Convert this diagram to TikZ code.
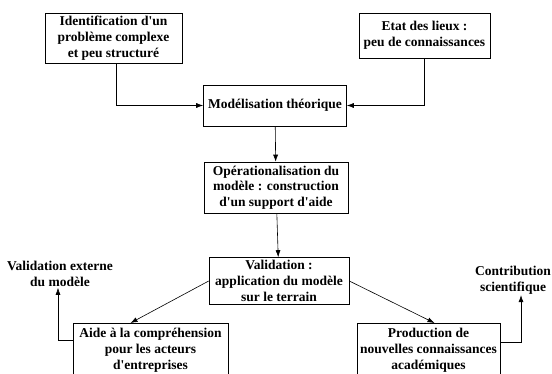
\documentclass[tikz,border=0pt]{standalone}
\usepackage{fontspec}
\setmainfont{Liberation Serif}
\usetikzlibrary{calc,arrows.meta}
\def\apos{\textquotesingle}

\tikzset{
  boite/.style={draw, align=center, inner sep=1.5pt, line width=0.6pt,
    font=\bfseries\fontsize{13.5}{15.7}\selectfont},
  etiquette/.style={align=center, inner sep=1pt,
    font=\bfseries\fontsize{13.5}{15.7}\selectfont},
  fleche/.style={-{Latex[length=7pt,width=5pt]}, line width=0.6pt}
}

\begin{document}
\begin{tikzpicture}[x=1pt,y=-1pt]
				\useasboundingbox (0,0) rectangle (552,374);
				\clip (0,0) rectangle (552,374);
				
				\node[boite, minimum width=137pt, minimum height=50pt] (ident) at (113.5,38) {Identification d\apos un\\probl\`eme complexe\\et peu structur\'e};
				\node[boite, minimum width=131pt, minimum height=45pt] (etat) at (424.5,35.5) {Etat des lieux :\\peu de connaissances};
				\node[boite, minimum width=143pt, minimum height=41pt] (model) at (275,105.5) {Mod\'elisation th\'eorique};
				\node[boite, minimum width=144pt, minimum height=51pt] (operat) at (276,187.5) {Op\'erationalisation du\\mod\`ele : construction\\d\apos un support d\apos aide};
				\node[boite, minimum width=140pt, minimum height=47pt] (valid) at (279,281) {Validation :\\application du mod\`ele\\sur le terrain};
				\node[boite, minimum width=155pt, minimum height=54pt, anchor=north] (aide) at (150.5,323) {Aide \`a la compr\'ehension\\pour les acteurs\\d\apos entreprises};
				\node[boite, minimum width=143pt, minimum height=54pt, anchor=north] (prod) at (428.5,323) {Production de\\nouvelles connaissances\\acad\'emiques};
				
				\node[etiquette] (valext) at (60,274) {Validation externe\\du mod\`ele};
				\node[etiquette] (contrib) at (513,280) {Contribution\\scientifique};
				
				\draw[fleche] ([xshift=3pt]ident.south) |- (model.west);
				\draw[fleche] (etat.south) |- (model.east);
				\draw[fleche] (model) -- (operat);
				\draw[fleche] (operat) -- (valid);
				\draw[fleche] (valid.west) -- ([xshift=-20pt]aide.north);
				\draw[fleche] (valid.east) -- ([xshift=6pt]prod.north);
				\draw[fleche] (aide.west |- 0,340) -| ([xshift=-2pt]valext.south);
				\draw[fleche] (prod.east |- 0,342) -| ([xshift=8pt]contrib.south);
			\end{tikzpicture}
\end{document}
